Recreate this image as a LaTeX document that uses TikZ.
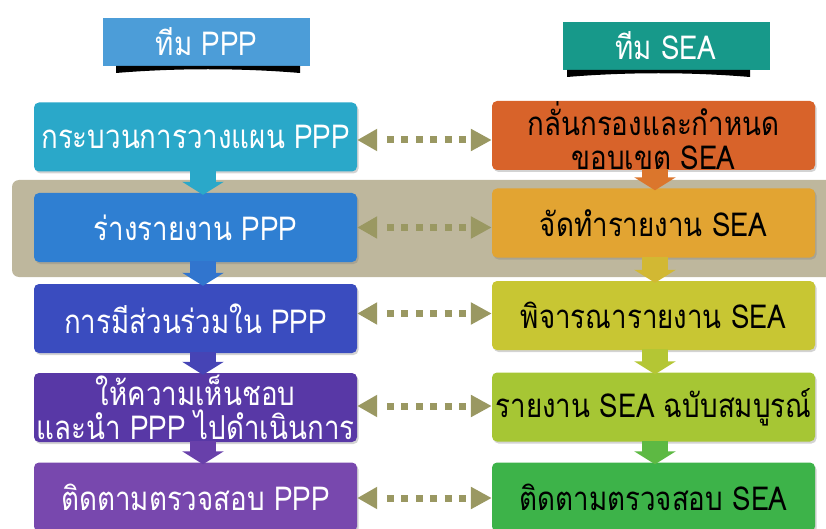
\documentclass[tikz,border=0pt]{standalone}
\usepackage{fontspec}
\newfontfamily\thai[Script=Thai,FakeStretch=0.84]{Loma}
\usetikzlibrary{arrows.meta,shadows,calc}
\definecolor{hPPP}{HTML}{4C9DD8}
\definecolor{hSEA}{HTML}{17998A}
\definecolor{lA}{HTML}{2AA8C9}
\definecolor{lB}{HTML}{2F7FD2}
\definecolor{lC}{HTML}{3A4CBF}
\definecolor{lD}{HTML}{5838A6}
\definecolor{lE}{HTML}{7848AE}
\definecolor{rA}{HTML}{D8632A}
\definecolor{rB}{HTML}{E2A432}
\definecolor{rC}{HTML}{C8C633}
\definecolor{rD}{HTML}{A6C634}
\definecolor{rE}{HTML}{3DB349}
\definecolor{olv}{HTML}{9A9862}
\definecolor{band}{HTML}{BEB79D}
\tikzset{
  box/.style={rounded corners=5pt, minimum width=323pt, minimum height=69pt,
    inner sep=0pt, align=center, font=\thai\fontsize{33}{34}\selectfont,
    drop shadow={shadow xshift=1.5pt, shadow yshift=-2pt, opacity=0.35}},
  lbox/.style={box, fill=#1, text=white},
  rbox/.style={box, fill=#1, text=black},
  head/.style={minimum width=207pt, minimum height=48pt, inner sep=0pt,
    fill=#1, text=white, font=\thai\fontsize{33}{33}\selectfont},
  downarr/.style={draw=#1, line width=26pt,
    -{Triangle[length=13pt, width=41pt, fill=#1]}},
  dotconn/.style={draw=olv, line width=7pt,
    dash pattern=on 0pt off 11pt on 7pt off 7.4pt on 7pt off 7.4pt on 7pt off 7.4pt on 7pt off 7.4pt on 7pt off 7.4pt on 7pt off 40pt,
    {Triangle[length=20pt, width=21pt, fill=olv]}-{Triangle[length=21pt, width=21pt, fill=olv]}}
}
\begin{document}
\begin{tikzpicture}[x=1pt,y=-1pt]
\useasboundingbox (0,0) rectangle (826,529);
% band
\fill[band, rounded corners=7pt] (12,180) rectangle (840,277);
% headers
\node[head=hPPP] (hp) at (206.5,42) {ทีม PPP};
\node[head=hSEA] (hs) at (666,46) {ทีม SEA};
\fill[black] (116,66) -- (300,66) -- (300,73) .. controls (240,68) and (176,68) .. (116,73) -- cycle;
\fill[black] (567,70) -- (750,70) -- (750,77) .. controls (690,72) and (627,72) .. (567,77) -- cycle;
% left boxes
\node[lbox=lA] (L1) at (195.5,137) {กระบวนการวางแผน PPP};
\node[lbox=lB] (L2) at (195.5,227.5) {ร่างรายงาน PPP};
\node[lbox=lC] (L3) at (195.5,318.5) {การมีส่วนร่วมใน PPP};
\node[lbox=lD] (L4) at (195.5,407.5) {ให้ความเห็นชอบ\\และนำ PPP ไปดำเนินการ};
\node[lbox=lE] (L5) at (195.5,497) {ติดตามตรวจสอบ PPP};
% right boxes
\node[rbox=rA] (R1) at (653.5,135.5) {กลั่นกรองและกำหนด\\ขอบเขต SEA};
\node[rbox=rB] (R2) at (653.5,223) {จัดทำรายงาน SEA};
\node[rbox=rC] (R3) at (653.5,315.5) {พิจารณารายงาน SEA};
\node[rbox=rD] (R4) at (653.5,407) {รายงาน SEA ฉบับสมบูรณ์};
\node[rbox=rE] (R5) at (653.5,497) {ติดตามตรวจสอบ SEA};
% down arrows
\draw[downarr=lA] ([xshift=7.5pt,yshift=1pt]L1.south) -- ([xshift=7.5pt,yshift=-2pt]L2.north);
\draw[downarr=lB!80!lC] ([xshift=7.5pt,yshift=1pt]L2.south) -- ([xshift=7.5pt,yshift=-2pt]L3.north);
\draw[downarr=lC!60!lD] ([xshift=7.5pt,yshift=1pt]L3.south) -- ([xshift=7.5pt,yshift=-2pt]L4.north);
\draw[downarr=lD!50!lE] ([xshift=7.5pt,yshift=1pt]L4.south) -- ([xshift=7.5pt,yshift=-2pt]L5.north);
\draw[downarr=rA!70!rB] ([xshift=1.5pt,yshift=1pt]R1.south) -- ([xshift=1.5pt,yshift=-2pt]R2.north);
\draw[downarr=rB!40!rC] ([xshift=1.5pt,yshift=1pt]R2.south) -- ([xshift=1.5pt,yshift=-2pt]R3.north);
\draw[downarr=rC!40!rD] ([xshift=1.5pt,yshift=1pt]R3.south) -- ([xshift=1.5pt,yshift=-2pt]R4.north);
\draw[downarr=rD!30!rE] ([xshift=1.5pt,yshift=1pt]R4.south) -- ([xshift=1.5pt,yshift=-2pt]R5.north);
% dotted double arrows
\draw[dotconn] ([yshift=-3pt]L1.east) -- ([yshift=-3pt]L1.east -| R1.west);
\draw[dotconn] ([yshift=0pt]L2.east) -- ([yshift=0pt]L2.east -| R2.west);
\draw[dotconn] ([yshift=5pt]L3.east) -- ([yshift=5pt]L3.east -| R3.west);
\draw[dotconn] ([yshift=1.5pt]L4.east) -- ([yshift=1.5pt]L4.east -| R4.west);
\draw[dotconn] ([yshift=-1pt]L5.east) -- ([yshift=-1pt]L5.east -| R5.west);
\end{tikzpicture}
\end{document}
